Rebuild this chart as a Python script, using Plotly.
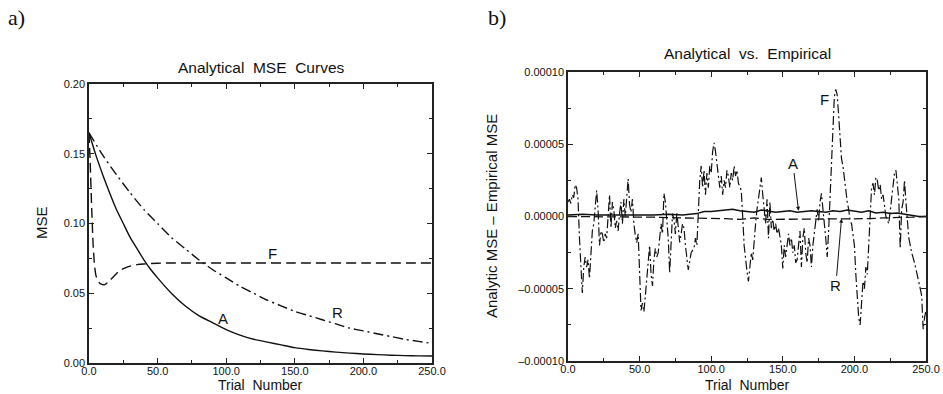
import plotly.graph_objects as go

# ---------------- Panel a: Analytical MSE curves ----------------
a_A_x = [0, 5, 10, 15, 20, 25, 30, 35, 40, 45, 50, 60, 70, 80, 90, 100, 110, 120, 130,
         140, 150, 160, 170, 180, 190, 200, 210, 220, 230, 240, 250]
a_A_y = [0.165, 0.149, 0.135, 0.122, 0.110, 0.100, 0.090, 0.082, 0.074, 0.067, 0.061,
         0.050, 0.041, 0.034, 0.029, 0.024, 0.020, 0.017, 0.015, 0.013, 0.011, 0.0097,
         0.0087, 0.0078, 0.0071, 0.0065, 0.0060, 0.0056, 0.0053, 0.0051, 0.0050]

a_R_x = [0, 10, 20, 30, 40, 50, 60, 70, 80, 90, 100, 110, 120, 130, 140, 150, 160, 170,
         180, 190, 200, 210, 220, 230, 240, 250]
a_R_y = [0.165, 0.149, 0.135, 0.122, 0.110, 0.100, 0.090, 0.082, 0.074, 0.067, 0.061,
         0.055, 0.050, 0.045, 0.041, 0.037, 0.034, 0.031, 0.028, 0.025, 0.023, 0.021,
         0.019, 0.017, 0.0155, 0.014]

a_F_x = [0, 1, 2, 3, 4, 5, 6, 8, 11, 14, 18, 22, 26, 30, 35, 40, 50, 60, 100, 150, 200, 250]
a_F_y = [0.165, 0.140, 0.110, 0.085, 0.070, 0.063, 0.060, 0.057, 0.056, 0.058, 0.062,
         0.066, 0.068, 0.0695, 0.0705, 0.071, 0.0715, 0.0717, 0.0717, 0.0717, 0.0717, 0.0717]

# ---------------- Panel b: Analytical - Empirical (units of 1e-5) ----------------
b_F_x = [0, 1, 2, 3, 4, 5, 6, 7, 8, 9, 10, 11, 12, 13, 14, 15, 16, 17, 18, 19, 20, 21, 22,
         23, 24, 25, 26, 27, 28, 29, 30, 31, 32, 33, 34, 35, 36, 37, 38, 39, 40, 41, 42,
         43, 44, 45, 46, 47, 48, 49, 50, 51, 52, 53, 54, 55, 56, 57, 58, 59, 60, 61, 62,
         63, 64, 65, 66, 67, 68, 69, 70, 71, 72, 73, 74, 75, 76, 77, 78, 79, 80, 81, 82,
         84, 86, 88, 89, 90, 91, 92, 93, 94, 95, 96, 97, 98, 99, 100, 101, 102, 103, 104,
         105, 106, 107, 108, 109, 110, 111, 112, 113, 114, 115, 116, 117, 118, 119, 120,
         121, 122, 123, 125, 126, 127, 128, 129, 130, 131, 132, 133, 134, 135, 136, 137,
         138, 139, 140, 141, 142, 143, 144, 145, 146, 147, 148, 149, 150, 151, 152, 153,
         154, 155, 156, 157, 158, 159, 160, 161, 162, 163, 164, 165, 166, 167, 168, 169,
         170, 171, 172, 173, 174, 175, 176, 177, 178, 179, 180, 181, 182, 183, 184, 185,
         186, 187, 188, 189, 190, 191, 192, 193, 194, 195, 196, 197, 198, 199, 200, 201,
         202, 203, 204, 205, 206, 207, 208, 209, 210, 211, 212, 213, 214, 215, 216, 217,
         218, 219, 220, 221, 222, 224, 226, 228, 229, 230, 231, 232, 233, 234, 235, 236,
         237, 238, 239, 240, 242, 244, 246, 247, 248, 249, 250]
b_F_y = [1.0, 1.2, 0.9, 1.5, 1.3, 2.2, 2.0, 1.2, -1.5, -3.5, -5.3, -3.5, -2.8, -3.5, -3.0,
         -4.3, -2.5, -1.0, -0.5, 0.5, 1.8, 0.5, -2.0, -1.0, -1.2, -1.8, -1.2, -1.5, 0.3,
         1.5, -0.8, 1.0, 0.5, -0.8, -0.3, -1.0, 0.2, 1.0, -0.5, 1.2, 0.0, 1.3, 2.6, 0.8,
         0.3, 1.2, -0.5, -1.3, -1.8, -1.2, -3.5, -6.5, -6.0, -6.6, -5.5, -4.5, -3.0, -2.0,
         -4.0, -4.8, -3.0, -2.2, -2.8, -2.5, -1.5, -0.5, -1.2, 1.6, 1.0, 0.0, -1.5, -3.9,
         -1.5, 0.2, -0.2, -1.2, 0.3, -1.0, -1.8, -1.2, -0.5, -0.8, -2.0, -3.7, -2.5, -2.2,
         -1.5, -2.0, 0.5, 2.5, 3.5, 2.0, 3.2, 1.5, 3.0, 2.0, 3.5, 3.0, 4.5, 5.1, 4.5, 3.5,
         2.8, 2.0, 2.8, 1.5, 2.5, 2.0, 3.2, 2.8, 2.0, 3.0, 2.5, 3.5, 2.8, 3.2, 2.3, 2.0,
         1.8, 0.0, -2.0, -3.8, -4.5, -3.5, -2.5, -3.0, -1.5, -0.5, 0.5, 1.2, 2.0, 2.7, 1.5,
         0.3, -0.5, 1.2, -1.5, 1.0, -0.8, -0.2, -1.0, -0.5, -1.2, -0.8, -1.5, -2.0, -3.6,
         -2.0, -2.8, -1.8, -1.2, -2.0, -1.5, -2.5, -2.0, -3.2, -3.0, -2.0, -1.0, -3.5, -1.5,
         -0.8, -2.5, -3.2, -1.5, -2.0, -3.5, -2.0, -1.0, -0.5, 0.5, -0.3, 1.0, 1.6, 0.3,
         -0.5, -1.5, -2.8, -1.0, 1.5, 4.0, 6.5, 8.3, 8.8, 8.4, 7.0, 5.5, 4.0, 3.5, 2.5, 1.5,
         1.0, 0.5, -0.3, -0.5, -1.5, -2.0, -4.0, -6.0, -7.0, -7.5, -6.0, -4.5, -5.0, -3.5,
         -4.0, -2.0, 0.5, 2.0, 2.3, 1.5, 2.7, 2.5, 1.8, 2.2, 1.2, 1.5, 0.8, 0.0, -0.5, 1.5,
         3.0, 3.2, 2.0, 1.2, -2.2, 0.5, 1.0, 2.5, 1.0, -0.5, -1.5, -2.0, -2.5, -3.2, -4.0,
         -5.0, -5.5, -7.8, -7.0, -6.5]

b_A_x = [0, 10, 20, 30, 40, 50, 60, 70, 80, 90, 95, 100, 105, 110, 115, 120, 125, 130, 135,
         140, 145, 150, 155, 160, 165, 170, 175, 180, 185, 190, 195, 200, 205, 210, 215,
         220, 225, 230, 235, 240, 245, 250]
b_A_y = [0.1, 0.15, 0.1, 0.1, 0.05, 0.05, 0.1, 0.15, 0.1, 0.2, 0.35, 0.35, 0.4, 0.45, 0.5,
         0.4, 0.35, 0.3, 0.45, 0.35, 0.3, 0.35, 0.4, 0.3, 0.35, 0.4, 0.35, 0.3, 0.4, 0.35,
         0.45, 0.35, 0.3, 0.4, 0.25, 0.3, 0.2, 0.25, 0.15, 0.1, 0.0, 0.0]

b_R_x = [0, 20, 40, 60, 80, 100, 110, 120, 130, 140, 150, 160, 170, 180, 190, 200, 210,
         220, 230, 240, 250]
b_R_y = [0.0, 0.0, -0.05, -0.05, -0.1, -0.1, -0.15, -0.2, -0.1, -0.2, -0.2, -0.2, -0.15,
         -0.2, -0.2, -0.2, -0.15, -0.1, -0.1, -0.05, 0.0]

UNIT = 1e-5
b_F_v = [v * UNIT for v in b_F_y]
b_A_v = [v * UNIT for v in b_A_y]
b_R_v = [v * UNIT for v in b_R_y]

b_ytick_vals = [-1e-4, -5e-5, 0.0, 5e-5, 1e-4]
b_ytick_text = ["\u20130.00010", "\u20130.00005", "0.00000", "0.00005", "0.00010"]

FONT = "Liberation Sans, Arial, sans-serif"
INK = "#111"
SP = "\u00a0"

fig = go.Figure()

lw = 1.4
fig.add_trace(go.Scatter(x=a_A_x, y=a_A_y, mode="lines", line=dict(color=INK, width=lw, shape="spline", smoothing=0.6),
                         xaxis="x", yaxis="y", showlegend=False))
fig.add_trace(go.Scatter(x=a_R_x, y=a_R_y, mode="lines", line=dict(color=INK, width=lw, dash="10px,4px,2px,4px", shape="spline", smoothing=0.6),
                         xaxis="x", yaxis="y", showlegend=False))
fig.add_trace(go.Scatter(x=a_F_x, y=a_F_y, mode="lines", line=dict(color=INK, width=lw, dash="10px,5px", shape="spline", smoothing=0.5),
                         xaxis="x", yaxis="y", showlegend=False))

fig.add_trace(go.Scatter(x=b_F_x, y=b_F_v, mode="lines", line=dict(color=INK, width=1.2, dash="9px,3px,2px,3px"),
                         xaxis="x2", yaxis="y2", showlegend=False))
fig.add_trace(go.Scatter(x=b_R_x, y=b_R_v, mode="lines", line=dict(color=INK, width=1.3, dash="9px,4px"),
                         xaxis="x2", yaxis="y2", showlegend=False))
fig.add_trace(go.Scatter(x=b_A_x, y=b_A_v, mode="lines", line=dict(color=INK, width=1.5),
                         xaxis="x2", yaxis="y2", showlegend=False))

W, H = 943, 394
def dx(px):
    return px / W
def dy(py):
    return 1 - py / H

axis_common = dict(showline=True, linecolor="#222", linewidth=1.5, mirror="ticks",
                   ticks="inside", ticklen=5, tickwidth=1.2, tickcolor="#222",
                   showgrid=False, zeroline=False, automargin=False,
                   tickfont=dict(family=FONT, size=11, color=INK))

xtick_extra = dict(ticklabelstandoff=-3)

fig.update_layout(
    width=W, height=H,
    margin=dict(l=0, r=0, t=0, b=0),
    paper_bgcolor="white", plot_bgcolor="white",
    font=dict(family=FONT, color=INK),
    xaxis=dict(domain=[dx(89), dx(432)], range=[0, 250], tickvals=[0, 50, 100, 150, 200, 250],
               tickformat=".1f", anchor="y",
               minor=dict(tickvals=[25, 75, 125, 175, 225], ticks="inside", ticklen=3, tickcolor="#222"),
               **xtick_extra, **axis_common),
    yaxis=dict(domain=[dy(363), dy(84)], range=[0, 0.2], tickvals=[0, 0.05, 0.1, 0.15, 0.2],
               tickformat=".2f", anchor="x",
               minor=dict(tickvals=[0.025, 0.075, 0.125, 0.175], ticks="inside", ticklen=3, tickcolor="#222"),
               **axis_common),
    xaxis2=dict(domain=[dx(568), dx(926)], range=[0, 250], tickvals=[0, 50, 100, 150, 200, 250],
                tickformat=".1f", anchor="y2",
                minor=dict(tickvals=[25, 75, 125, 175, 225], ticks="inside", ticklen=3, tickcolor="#222"),
                **xtick_extra, **axis_common),
    yaxis2=dict(domain=[dy(361), dy(72)], range=[-1e-4, 1e-4], tickvals=b_ytick_vals, ticktext=b_ytick_text,
                anchor="x2",
                minor=dict(tickvals=[-7.5e-5, -2.5e-5, 2.5e-5, 7.5e-5], ticks="inside", ticklen=3, tickcolor="#222"),
                **axis_common),
)

title_font = dict(family=FONT, size=14, color=INK)
annots = [
    # panel letters
    dict(text="a)", x=dx(6), y=dy(3), xref="paper", yref="paper", xanchor="left", yanchor="top",
         showarrow=False, font=dict(family="Liberation Serif, Times New Roman, serif", size=22, color=INK)),
    dict(text="b)", x=dx(486), y=dy(3), xref="paper", yref="paper", xanchor="left", yanchor="top",
         showarrow=False, font=dict(family="Liberation Serif, Times New Roman, serif", size=22, color=INK)),
    # titles
    dict(text="Analytical" + SP + SP + "MSE" + SP + SP + "Curves", x=dx(261), y=dy(67), xref="paper", yref="paper",
         xanchor="center", yanchor="middle", showarrow=False, font=dict(family=FONT, size=15.5, color=INK)),
    dict(text="Analytical" + SP + SP + "vs." + SP + SP + "Empirical", x=dx(747), y=dy(54), xref="paper", yref="paper",
         xanchor="center", yanchor="middle", showarrow=False, font=dict(family=FONT, size=15.5, color=INK)),
    # axis titles
    dict(text="Trial" + SP + SP + "Number", x=dx(260), y=dy(394), xref="paper", yref="paper",
         xanchor="center", yanchor="bottom", borderpad=0, showarrow=False, font=title_font),
    dict(text="Trial" + SP + SP + "Number", x=dx(747), y=dy(394), xref="paper", yref="paper",
         xanchor="center", yanchor="bottom", borderpad=0, showarrow=False, font=title_font),
    dict(text="MSE", x=dx(41), y=dy(223), xref="paper", yref="paper", textangle=-90,
         xanchor="center", yanchor="middle", showarrow=False, font=dict(family=FONT, size=15, color=INK)),
    dict(text="Analytic MSE \u2013 Empirical MSE", x=dx(491), y=dy(216), xref="paper", yref="paper", textangle=-90,
         xanchor="center", yanchor="middle", showarrow=False, font=dict(family=FONT, size=15, color=INK)),
    # curve labels panel a
    dict(text="F", x=133.5, y=0.0788, xref="x", yref="y", showarrow=False, font=dict(family=FONT, size=15, color=INK)),
    dict(text="A", x=97.5, y=0.0317, xref="x", yref="y", showarrow=False, font=dict(family=FONT, size=15, color=INK)),
    dict(text="R", x=181, y=0.0363, xref="x", yref="y", showarrow=False, font=dict(family=FONT, size=15, color=INK)),
    # curve labels panel b
    dict(text="F", x=179, y=8.1e-5, xref="x2", yref="y2", showarrow=False, font=dict(family=FONT, size=15, color=INK)),
    dict(text="A", x=161, y=0.4e-5, ax=157, ay=3.7e-5, xref="x2", yref="y2", axref="x2", ayref="y2",
         showarrow=True, arrowhead=2, arrowsize=0.8, arrowwidth=1, arrowcolor=INK,
         font=dict(family=FONT, size=15, color=INK)),
    dict(text="R", x=191, y=-0.15e-5, ax=187, ay=-4.8e-5, xref="x2", yref="y2", axref="x2", ayref="y2",
         showarrow=True, arrowhead=2, arrowsize=0.8, arrowwidth=1, arrowcolor=INK,
         font=dict(family=FONT, size=15, color=INK)),
]
fig.update_layout(annotations=annots)

fig.write_html("out.html")
